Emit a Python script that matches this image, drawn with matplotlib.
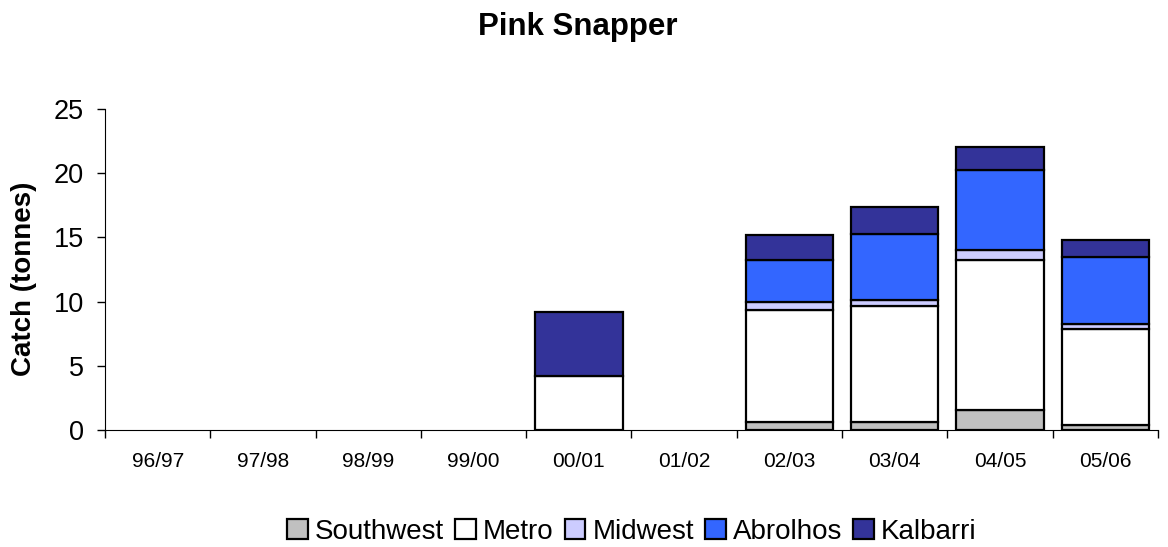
import numpy as np
import matplotlib.pyplot as plt
from matplotlib.ticker import FixedLocator

plt.rcParams['font.family'] = ['Liberation Sans', 'DejaVu Sans']

seasons = ['96/97', '97/98', '98/99', '99/00', '00/01', '01/02', '02/03', '03/04', '04/05', '05/06']
southwest = [0, 0, 0, 0, 0.0, 0, 0.6, 0.6, 1.55, 0.4]
metro = [0, 0, 0, 0, 4.2, 0, 8.75, 9.05, 11.7, 7.5]
midwest = [0, 0, 0, 0, 0, 0, 0.6, 0.45, 0.8, 0.35]
abrolhos = [0, 0, 0, 0, 0, 0, 3.3, 5.15, 6.2, 5.25]
kalbarri = [0, 0, 0, 0, 5.0, 0, 1.9, 2.1, 1.8, 1.3]

series = [('Southwest', southwest, '#C0C0C0'),
          ('Metro', metro, '#FFFFFF'),
          ('Midwest', midwest, '#CCCCFF'),
          ('Abrolhos', abrolhos, '#3366FF'),
          ('Kalbarri', kalbarri, '#333399')]

fig = plt.figure(figsize=(11.68, 5.47), dpi=100)
ax = fig.add_axes([0.0899, 0.2139, 0.9015, 0.5868])

x = np.arange(len(seasons))
bottom = np.zeros(len(seasons))
for name, vals, col in series:
    vals = np.array(vals, dtype=float)
    show = np.where(vals > 0, vals, np.nan)
    ax.bar(x, show, 0.83, bottom=bottom, color=col, edgecolor='black',
           linewidth=1.6, label=name)
    bottom += vals

ax.set_xlim(-0.5, len(seasons) - 0.5)
ax.set_ylim(0, 25)
ax.set_yticks([0, 5, 10, 15, 20, 25])
ax.set_xticks(x)
ax.set_xticklabels(seasons, fontsize=15)
ax.tick_params(axis='x', which='major', length=0, pad=16)
ax.xaxis.set_minor_locator(FixedLocator(np.arange(-0.5, len(seasons), 1.0)))
ax.tick_params(axis='x', which='minor', length=6, direction='out', width=1)
ax.tick_params(axis='y', labelsize=19.5, length=6, direction='out', width=1, pad=9)
for s in ['top', 'right']:
    ax.spines[s].set_visible(False)

ax.set_ylabel('Catch (tonnes)', fontsize=20, fontweight='bold')
ax.yaxis.set_label_coords(-0.0646, 0.47)
fig.text(0.495, 0.95, 'Pink Snapper', ha='center', va='center', fontsize=22.5, fontweight='bold')

fig.legend(loc='center', bbox_to_anchor=(0.541, 0.028), ncol=5, frameon=False,
           fontsize=20, handlelength=0.75, handleheight=0.75, handletextpad=0.25,
           columnspacing=0.4, borderaxespad=0)

fig.savefig('out.png', dpi=100)
